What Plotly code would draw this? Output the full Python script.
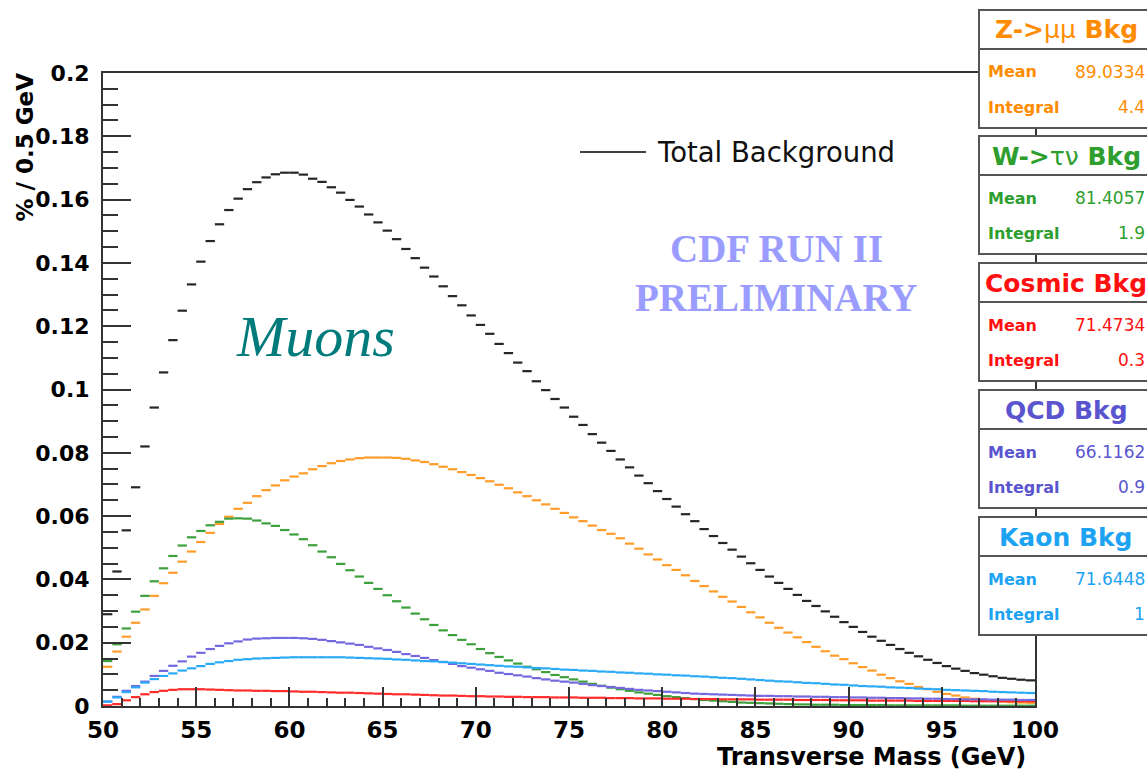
import plotly.graph_objects as go

# ---------------- data (bin centres, 0.5 GeV bins) ----------------
bin_centers = [50.25 + 0.5 * i for i in range(100)]

total_bkg = [
    0.0290, 0.0425, 0.0555, 0.0691, 0.0820, 0.0943, 0.1054, 0.1156, 0.1249, 0.1332,
    0.1404, 0.1469, 0.1522, 0.1567, 0.1603, 0.1633, 0.1655, 0.1670, 0.1680, 0.1685,
    0.1685, 0.1679, 0.1666, 0.1656, 0.1639, 0.1622, 0.1599, 0.1578, 0.1553, 0.1528,
    0.1502, 0.1475, 0.1444, 0.1415, 0.1385, 0.1357, 0.1326, 0.1295, 0.1266, 0.1234,
    0.1204, 0.1176, 0.1144, 0.1115, 0.1085, 0.1058, 0.1026, 0.0998, 0.0970, 0.0943,
    0.0914, 0.0888, 0.0859, 0.0832, 0.0806, 0.0779, 0.0754, 0.0728, 0.0704, 0.0679,
    0.0654, 0.0630, 0.0606, 0.0584, 0.0559, 0.0537, 0.0515, 0.0494, 0.0472, 0.0451,
    0.0430, 0.0409, 0.0389, 0.0370, 0.0351, 0.0332, 0.0316, 0.0299, 0.0282, 0.0265,
    0.0250, 0.0234, 0.0219, 0.0206, 0.0193, 0.0180, 0.0168, 0.0157, 0.0146, 0.0136,
    0.0126, 0.0118, 0.0111, 0.0104, 0.0099, 0.0094, 0.0089, 0.0086, 0.0083, 0.0081]

z_mumu = [
    0.0124, 0.0172, 0.0219, 0.0263, 0.0305, 0.0348, 0.0388, 0.0421, 0.0456, 0.0488,
    0.0518, 0.0547, 0.0575, 0.0598, 0.0623, 0.0642, 0.0663, 0.0682, 0.0697, 0.0713,
    0.0725, 0.0735, 0.0748, 0.0758, 0.0767, 0.0774, 0.0779, 0.0783, 0.0785, 0.0785,
    0.0785, 0.0784, 0.0781, 0.0776, 0.0771, 0.0764, 0.0756, 0.0748, 0.0739, 0.0730,
    0.0720, 0.0710, 0.0699, 0.0688, 0.0675, 0.0663, 0.0650, 0.0637, 0.0623, 0.0610,
    0.0596, 0.0584, 0.0570, 0.0556, 0.0544, 0.0530, 0.0513, 0.0497, 0.0479, 0.0463,
    0.0445, 0.0430, 0.0413, 0.0395, 0.0379, 0.0362, 0.0345, 0.0330, 0.0313, 0.0296,
    0.0280, 0.0263, 0.0247, 0.0232, 0.0217, 0.0202, 0.0187, 0.0173, 0.0159, 0.0148,
    0.0135, 0.0123, 0.0112, 0.0099, 0.0088, 0.0078, 0.0070, 0.0060, 0.0053, 0.0045,
    0.0038, 0.0033, 0.0027, 0.0023, 0.0019, 0.0016, 0.0014, 0.0012, 0.0011, 0.0010]

w_taunu = [
    0.0142, 0.0195, 0.0245, 0.0298, 0.0348, 0.0394, 0.0435, 0.0474, 0.0507, 0.0533,
    0.0553, 0.0571, 0.0582, 0.0592, 0.0593, 0.0592, 0.0586, 0.0577, 0.0569, 0.0556,
    0.0542, 0.0527, 0.0508, 0.0488, 0.0470, 0.0449, 0.0429, 0.0409, 0.0389, 0.0370,
    0.0350, 0.0331, 0.0311, 0.0292, 0.0274, 0.0256, 0.0239, 0.0224, 0.0209, 0.0195,
    0.0180, 0.0167, 0.0155, 0.0144, 0.0134, 0.0124, 0.0116, 0.0107, 0.0098, 0.0091,
    0.0084, 0.0077, 0.0070, 0.0064, 0.0058, 0.0053, 0.0048, 0.0043, 0.0039, 0.0035,
    0.0031, 0.0028, 0.0025, 0.0022, 0.0019, 0.0017, 0.0015, 0.0013, 0.0011, 0.0010,
    0.0009, 0.0008, 0.0007, 0.0006, 0.0005, 0.0005, 0.0004, 0.0004, 0.0004, 0.0003,
    0.0003, 0.0003, 0.0003, 0.0003, 0.0002, 0.0002, 0.0002, 0.0002, 0.0002, 0.0002,
    0.0002, 0.0002, 0.0001, 0.0001, 0.0001, 0.0001, 0.0001, 0.0001, 0.0001, 0.0001]

cosmic = [
    0.0002, 0.0006, 0.0018, 0.0028, 0.0037, 0.0044, 0.0048, 0.0051, 0.0053, 0.0053,
    0.0053, 0.0052, 0.0051, 0.0050, 0.0049, 0.0049, 0.0048, 0.0048, 0.0047, 0.0047,
    0.0046, 0.0045, 0.0045, 0.0044, 0.0043, 0.0042, 0.0042, 0.0041, 0.0040, 0.0039,
    0.0038, 0.0037, 0.0037, 0.0036, 0.0035, 0.0034, 0.0033, 0.0033, 0.0032, 0.0031,
    0.0031, 0.0030, 0.0030, 0.0029, 0.0029, 0.0028, 0.0028, 0.0028, 0.0027, 0.0027,
    0.0027, 0.0026, 0.0026, 0.0026, 0.0025, 0.0025, 0.0025, 0.0024, 0.0024, 0.0024,
    0.0023, 0.0023, 0.0023, 0.0022, 0.0022, 0.0022, 0.0021, 0.0021, 0.0021, 0.0021,
    0.0020, 0.0020, 0.0020, 0.0020, 0.0019, 0.0019, 0.0019, 0.0019, 0.0018, 0.0018,
    0.0018, 0.0018, 0.0017, 0.0017, 0.0017, 0.0017, 0.0017, 0.0016, 0.0016, 0.0016,
    0.0016, 0.0016, 0.0016, 0.0015, 0.0015, 0.0015, 0.0015, 0.0015, 0.0015, 0.0015]

qcd = [
    0.0014, 0.0029, 0.0048, 0.0063, 0.0077, 0.0095, 0.0111, 0.0127, 0.0141, 0.0156,
    0.0168, 0.0180, 0.0190, 0.0198, 0.0204, 0.0210, 0.0213, 0.0214, 0.0215, 0.0215,
    0.0215, 0.0214, 0.0212, 0.0209, 0.0205, 0.0201, 0.0197, 0.0193, 0.0187, 0.0182,
    0.0177, 0.0171, 0.0164, 0.0158, 0.0152, 0.0145, 0.0139, 0.0133, 0.0126, 0.0121,
    0.0116, 0.0111, 0.0105, 0.0101, 0.0097, 0.0093, 0.0088, 0.0084, 0.0080, 0.0077,
    0.0074, 0.0070, 0.0066, 0.0063, 0.0060, 0.0057, 0.0054, 0.0051, 0.0049, 0.0047,
    0.0045, 0.0043, 0.0041, 0.0039, 0.0038, 0.0037, 0.0036, 0.0035, 0.0034, 0.0033,
    0.0032, 0.0032, 0.0031, 0.0031, 0.0030, 0.0030, 0.0029, 0.0029, 0.0028, 0.0028,
    0.0027, 0.0027, 0.0026, 0.0026, 0.0025, 0.0025, 0.0024, 0.0024, 0.0023, 0.0023,
    0.0022, 0.0022, 0.0021, 0.0021, 0.0021, 0.0020, 0.0020, 0.0020, 0.0019, 0.0019]

kaon = [
    0.0014, 0.0027, 0.0044, 0.0059, 0.0074, 0.0085, 0.0095, 0.0103, 0.0112, 0.0119,
    0.0126, 0.0133, 0.0138, 0.0142, 0.0146, 0.0148, 0.0150, 0.0151, 0.0152, 0.0153,
    0.0154, 0.0154, 0.0154, 0.0154, 0.0154, 0.0154, 0.0153, 0.0152, 0.0151, 0.0150,
    0.0149, 0.0147, 0.0146, 0.0144, 0.0142, 0.0141, 0.0139, 0.0137, 0.0135, 0.0133,
    0.0131, 0.0129, 0.0127, 0.0125, 0.0124, 0.0122, 0.0120, 0.0119, 0.0117, 0.0115,
    0.0114, 0.0112, 0.0111, 0.0109, 0.0108, 0.0106, 0.0105, 0.0103, 0.0102, 0.0100,
    0.0099, 0.0097, 0.0096, 0.0094, 0.0093, 0.0091, 0.0089, 0.0088, 0.0086, 0.0084,
    0.0082, 0.0080, 0.0078, 0.0077, 0.0075, 0.0073, 0.0072, 0.0070, 0.0068, 0.0067,
    0.0065, 0.0063, 0.0062, 0.0061, 0.0059, 0.0058, 0.0057, 0.0055, 0.0054, 0.0053,
    0.0051, 0.0050, 0.0049, 0.0048, 0.0047, 0.0045, 0.0044, 0.0043, 0.0042, 0.0041]

x_tickvals = [50, 55, 60, 65, 70, 75, 80, 85, 90, 95, 100]
x_ticktext = ["50", "55", "60", "65", "70", "75", "80", "85", "90", "95", "100"]
y_tickvals = [0, 0.02, 0.04, 0.06, 0.08, 0.1, 0.12, 0.14, 0.16, 0.18, 0.2]
y_ticktext = ["0", "0.02", "0.04", "0.06", "0.08", "0.1", "0.12", "0.14", "0.16", "0.18", "0.2"]

stat_titles = ["<b>Z-></b>μμ<b> Bkg</b>", "<b>W-></b>τν<b> Bkg</b>", "<b>Cosmic Bkg</b>",
               "<b>QCD Bkg</b>", "<b>Kaon Bkg</b>"]
stat_means = ["89.0334", "81.4057", "71.4734", "66.1162", "71.6448"]
stat_integrals = ["4.4", "1.9", "0.3", "0.9", "1"]

# ---------------- styling ----------------
W, H = 1147, 773
ML, MR, MT, MB = 103, 112, 73, 67
PW, PH = W - ML - MR, H - MT - MB

def px(xp):
    return (xp - ML) / PW

def py(yp):
    return (H - MB - yp) / PH

series = [
    ("Total Background", total_bkg, "#262626"),
    ("Z->μμ", z_mumu, "#ff9c2a"),
    ("W->τν", w_taunu, "#3ca03c"),
    ("Cosmic", cosmic, "#ff2a2a"),
    ("QCD", qcd, "#7468de"),
    ("Kaon", kaon, "#2aaaf6"),
]
stat_colors = ["#ff8c00", "#2e9e2e", "#ff1010", "#5a55cf", "#1ea3f2"]

fig = go.Figure()
for name, vals, col in series:
    fig.add_trace(go.Scatter(
        x=bin_centers, y=vals, mode="markers", name=name,
        marker=dict(size=1, color="rgba(0,0,0,0)"),
        error_x=dict(type="constant", value=0.25, width=0, thickness=2.2, color=col),
        showlegend=False, hoverinfo="x+y+name"))

tickfont = dict(family="DejaVu Sans", size=22, color="black", weight="bold")
xtickfont = dict(family="DejaVu Sans", size=23, color="black", weight="bold")
axcol = "#333333"

fig.update_layout(
    width=W, height=H,
    margin=dict(l=ML, r=MR, t=MT, b=MB),
    paper_bgcolor="white", plot_bgcolor="white",
    xaxis=dict(range=[50, 100], tickmode="array", tickvals=x_tickvals, ticktext=x_ticktext,
               ticks="inside", ticklen=19, tickwidth=2, tickcolor=axcol,
               minor=dict(tickmode="linear", tick0=50, dtick=1, ticks="inside",
                          ticklen=8, tickwidth=2, tickcolor=axcol),
               showline=True, linecolor=axcol, linewidth=2, mirror=True,
               showgrid=False, zeroline=False, tickfont=xtickfont, ticklabelstandoff=2),
    yaxis=dict(range=[0, 0.2], tickmode="array", tickvals=y_tickvals, ticktext=y_ticktext,
               ticks="inside", ticklen=28, tickwidth=2, tickcolor=axcol,
               minor=dict(tickmode="linear", tick0=0, dtick=0.005, ticks="inside",
                          ticklen=15, tickwidth=2, tickcolor=axcol),
               showline=True, linecolor=axcol, linewidth=2, mirror=True,
               showgrid=False, zeroline=False, tickfont=tickfont, ticklabelstandoff=7),
)

annotations = []
shapes = []

# axis titles
annotations.append(dict(text="Transverse Mass (GeV)", xref="paper", yref="paper",
                        x=px(1028), y=py(757), xanchor="right", yanchor="middle",
                        showarrow=False, font=dict(family="DejaVu Sans", size=24,
                                                   color="black", weight="bold")))
annotations.append(dict(text="% / 0.5 GeV", xref="paper", yref="paper", textangle=-90,
                        x=px(25), y=py(71), xanchor="center", yanchor="top",
                        showarrow=False, font=dict(family="DejaVu Sans", size=23,
                                                   color="black", weight="bold")))

# legend entry
shapes.append(dict(type="line", xref="paper", yref="paper", x0=px(580), x1=px(646),
                   y0=py(152), y1=py(152), line=dict(color="black", width=1.5)))
annotations.append(dict(text="Total Background", xref="paper", yref="paper",
                        x=px(655), y=py(152), xanchor="left", yanchor="middle",
                        showarrow=False, font=dict(family="DejaVu Sans", size=27.5, color="#111")))

# CDF label
for txt, yc in [("CDF RUN II", 249), ("PRELIMINARY", 297)]:
    annotations.append(dict(text=txt, xref="paper", yref="paper", x=px(776), y=py(yc),
                            xanchor="center", yanchor="middle", showarrow=False,
                            font=dict(family="Liberation Serif", size=39, color="#9a9cff",
                                      weight="bold")))
annotations.append(dict(text="<i>Muons</i>", xref="paper", yref="paper", x=px(234), y=py(336),
                        xanchor="left", yanchor="middle", showarrow=False,
                        font=dict(family="Liberation Serif", size=58, color="#007b7b")))

# stats boxes
box_tops = [10, 136, 263, 390, 517]
for k in range(5):
    t = box_tops[k]
    b = t + 118
    col = stat_colors[k]
    shapes.append(dict(type="rect", xref="paper", yref="paper", x0=px(979), x1=px(1170),
                       y0=py(b), y1=py(t), fillcolor="white", line=dict(color="#555", width=2),
                       layer="above"))
    shapes.append(dict(type="line", xref="paper", yref="paper", x0=px(979), x1=px(1170),
                       y0=py(t + 39), y1=py(t + 39), line=dict(color="#555", width=2),
                       layer="above"))
    annotations.append(dict(text=stat_titles[k], xref="paper", yref="paper",
                            x=px(1066), y=py(t + 20), xanchor="center", yanchor="middle",
                            showarrow=False, font=dict(family="DejaVu Sans", size=25,
                                                       color=col)))
    for lab, val, dy in [("Mean", stat_means[k], 62), ("Integral", stat_integrals[k], 97)]:
        annotations.append(dict(text=lab, xref="paper", yref="paper", x=px(986), y=py(t + dy),
                                xanchor="left", yanchor="middle", showarrow=False,
                                font=dict(family="DejaVu Sans", size=16, color=col,
                                          weight="bold")))
        annotations.append(dict(text=val, xref="paper", yref="paper", x=px(1147), y=py(t + dy),
                                xanchor="right", yanchor="middle", showarrow=False,
                                font=dict(family="DejaVu Sans", size=17, color=col)))

fig.update_layout(annotations=annotations, shapes=shapes)
fig.write_html("out.html")
